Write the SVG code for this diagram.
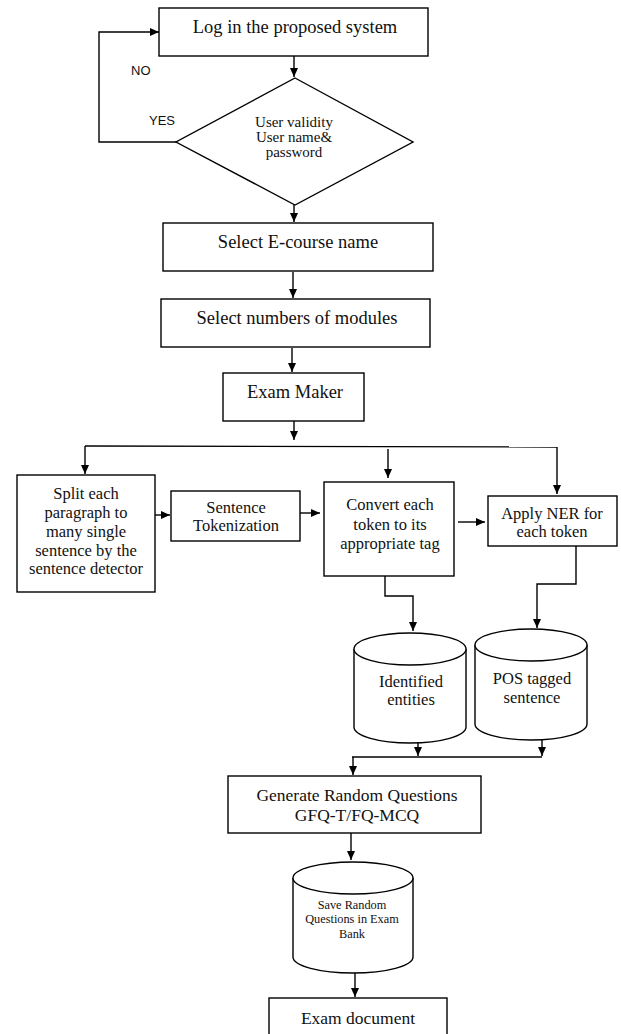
<svg xmlns="http://www.w3.org/2000/svg" width="621" height="1034" viewBox="0 0 621 1034">
<style>
.b{fill:#fff;stroke:#000;stroke-width:1.4}
.c{fill:none;stroke:#000;stroke-width:1.4}
.t{font-family:"Liberation Serif","Times New Roman",serif;fill:#111;text-anchor:middle}
.s{font-family:"Liberation Sans",Arial,sans-serif;fill:#111;font-size:13px}
</style>
<defs>
<marker id="a" markerWidth="10" markerHeight="10" refX="9" refY="5" orient="auto" markerUnits="userSpaceOnUse">
<path d="M0,1 L9,5 L0,9 Z" fill="#000"/>
</marker>
</defs>
<rect width="621" height="1034" fill="#fff"/>
<g id="connectors" class="c">
<path d="M294,56 L294,77" marker-end="url(#a)"/>
<path d="M176,142 L99,142 L99,32 L159,32" marker-end="url(#a)"/>
<path d="M294,205 L294,222" marker-end="url(#a)"/>
<path d="M293,272 L293,298" marker-end="url(#a)"/>
<path d="M292,348 L292,372" marker-end="url(#a)"/>
<path d="M294,421 L294,440" marker-end="url(#a)"/>
<path d="M85,446 L557,447"/>
<path d="M85,446 L85,474" marker-end="url(#a)"/>
<path d="M388,449 L388,478" marker-end="url(#a)"/>
<path d="M557,447 L557,494" marker-end="url(#a)"/>
<path d="M155,515 L170,515" marker-end="url(#a)"/>
<path d="M300,513 L320,513" marker-end="url(#a)"/>
<path d="M458,522 L485,522" marker-end="url(#a)"/>
<path d="M385,576 L385,596 L413,596 L413,631" marker-end="url(#a)"/>
<path d="M576,546 L576,584 L537,584 L537,628" marker-end="url(#a)"/>
<path d="M418,743 L418,756" marker-end="url(#a)"/>
<path d="M542,740 L542,756" marker-end="url(#a)"/>
<path d="M352,757 L542,757"/>
<path d="M353,757 L353,775" marker-end="url(#a)"/>
<path d="M351,833 L351,860" marker-end="url(#a)"/>
<path d="M355,973 L355,997" marker-end="url(#a)"/>
</g>
<g id="login">
<rect class="b" x="159" y="8" width="269" height="48"/>
<text class="t" x="295" y="33" font-size="18.5">Log in the proposed system</text>
</g>
<g id="validity">
<polygon class="b" points="295,78 413,142 295,205 176,142"/>
<text class="t" x="294" y="127" font-size="15">User validity</text>
<text class="t" x="294" y="142" font-size="15">User name&amp;</text>
<text class="t" x="294" y="157" font-size="15">password</text>
</g>
<text class="s" x="131" y="75">NO</text>
<text class="s" x="149" y="125">YES</text>
<g id="ecourse">
<rect class="b" x="163" y="223" width="270" height="48"/>
<text class="t" x="298" y="248" font-size="18.5">Select E-course name</text>
</g>
<g id="modules">
<rect class="b" x="161" y="299" width="269" height="48"/>
<text class="t" x="297" y="324" font-size="18.5">Select numbers of modules</text>
</g>
<g id="exammaker">
<rect class="b" x="223" y="373" width="141" height="48"/>
<text class="t" x="295" y="398" font-size="18.5">Exam Maker</text>
</g>
<g id="split">
<rect class="b" x="17" y="475" width="138" height="117"/>
<text class="t" x="86" y="499" font-size="16.5">Split each</text>
<text class="t" x="86" y="518" font-size="16.5">paragraph to</text>
<text class="t" x="86" y="537" font-size="16.5">many single</text>
<text class="t" x="86" y="556" font-size="16.5">sentence by the</text>
<text class="t" x="86" y="574" font-size="16.5">sentence detector</text>
</g>
<g id="tokenization">
<rect class="b" x="171" y="491" width="129" height="50"/>
<text class="t" x="236" y="513" font-size="16.5">Sentence</text>
<text class="t" x="236" y="531" font-size="16.5">Tokenization</text>
</g>
<g id="convert">
<rect class="b" x="324" y="482" width="130" height="94"/>
<text class="t" x="390" y="510" font-size="16.5">Convert each</text>
<text class="t" x="390" y="530" font-size="16.5">token to its</text>
<text class="t" x="390" y="549" font-size="16.5">appropriate tag</text>
</g>
<g id="ner">
<rect class="b" x="488" y="496" width="129" height="50"/>
<text class="t" x="552" y="519" font-size="16.5">Apply NER for</text>
<text class="t" x="552" y="537" font-size="16.5">each token</text>
</g>
<g id="entities">
<path class="b" d="M354,649 L354,727 A56,16 0 0 0 466,727 L466,649"/>
<ellipse class="b" cx="410" cy="649" rx="56" ry="16"/>
<text class="t" x="411" y="687" font-size="16.5">Identified</text>
<text class="t" x="411" y="705" font-size="16.5">entities</text>
</g>
<g id="postagged">
<path class="b" d="M475,645 L475,724 A56,16 0 0 0 587,724 L587,645"/>
<ellipse class="b" cx="531" cy="645" rx="56" ry="16"/>
<text class="t" x="532" y="684" font-size="16.5">POS tagged</text>
<text class="t" x="532" y="703" font-size="16.5">sentence</text>
</g>
<g id="generate">
<rect class="b" x="228" y="776" width="253" height="57"/>
<text class="t" x="357" y="801" font-size="17.5">Generate Random  Questions</text>
<text class="t" x="357" y="821" font-size="17.5">GFQ-T/FQ-MCQ</text>
</g>
<g id="bank">
<path class="b" d="M293,878 L293,957 A60,16 0 0 0 413,957 L413,878"/>
<ellipse class="b" cx="353" cy="878" rx="60" ry="16"/>
<text class="t" x="352" y="909" font-size="12.3">Save Random</text>
<text class="t" x="352" y="923" font-size="12.3">Questions in Exam</text>
<text class="t" x="352" y="938" font-size="12.3">Bank</text>
</g>
<g id="examdoc">
<rect class="b" x="269" y="998" width="178" height="50"/>
<text class="t" x="358" y="1024" font-size="17.5">Exam document</text>
</g>
</svg>
